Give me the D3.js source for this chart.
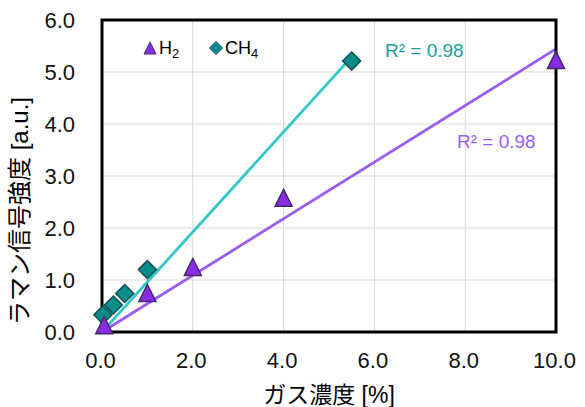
<!DOCTYPE html>
<html>
<head>
<meta charset="utf-8">
<script src="https://cdn.jsdelivr.net/npm/d3@7"></script>
<style>
  body { margin: 0; background: #fff; }
  text { font-family: Arial, "Liberation Sans", "Noto Sans CJK JP", sans-serif; }
</style>
</head>
<body>
<div id="chart"></div>
<script>
// Data
const h2X = [0.05, 1.0, 2.0, 4.0, 10.0];
const h2Y = [0.13, 0.75, 1.25, 2.58, 5.23];
const ch4X = [0.02, 0.25, 0.5, 1.0, 5.5];
const ch4Y = [0.33, 0.52, 0.74, 1.2, 5.21];
const xTicks = [0, 2, 4, 6, 8, 10];
const yTicks = [0, 1, 2, 3, 4, 5, 6];
const r2Labels = ["R² = 0.98", "R² = 0.98"]; // CH4, H2

(function () {
    const width = 585, height = 407;
    const margin = { top: 20, right: 29, bottom: 75, left: 102 };
    const innerW = width - margin.left - margin.right;
    const innerH = height - margin.top - margin.bottom;

    const svg = d3.select("#chart").append("svg")
        .attr("width", width)
        .attr("height", height);

    const g = svg.append("g").attr("transform", `translate(${margin.left},${margin.top})`);

    const x = d3.scaleLinear().domain([0, 10]).range([0, innerW]);
    const y = d3.scaleLinear().domain([0, 6]).range([innerH, 0]);

    // gridlines
    g.append("g").selectAll("line.vg")
        .data(xTicks.slice(1, -1)).enter().append("line")
        .attr("x1", d => x(d)).attr("x2", d => x(d))
        .attr("y1", 0).attr("y2", innerH)
        .attr("stroke", "#d9d9d9").attr("stroke-width", 1);
    g.append("g").selectAll("line.hg")
        .data(yTicks.slice(1, -1)).enter().append("line")
        .attr("y1", d => y(d)).attr("y2", d => y(d))
        .attr("x1", 0).attr("x2", innerW)
        .attr("stroke", "#d9d9d9").attr("stroke-width", 1);

    // axes (labels only)
    const xAxis = g.append("g")
        .attr("transform", `translate(0,${innerH})`)
        .call(d3.axisBottom(x).tickValues(xTicks).tickFormat(d3.format(".1f")).tickSize(0).tickPadding(20));
    const yAxis = g.append("g")
        .call(d3.axisLeft(y).tickValues(yTicks).tickFormat(d3.format(".1f")).tickSize(0).tickPadding(27));
    [xAxis, yAxis].forEach(a => {
        a.select(".domain").remove();
        a.selectAll("text").attr("font-size", 22).attr("fill", "#111")
            .attr("font-family", "Arial, 'Liberation Sans', sans-serif");
    });
    xAxis.selectAll("text").attr("dx", -2);

    // trendlines forced through the origin
    function slope(xs, ys) {
        return d3.sum(xs, (v, i) => v * ys[i]) / d3.sum(xs, v => v * v);
    }
    const line = d3.line().x(d => x(d[0])).y(d => y(d[1]));
    const kH2 = slope(h2X, h2Y);
    const kCH4 = slope(ch4X, ch4Y);

    g.append("path")
        .attr("d", line([[0, 0], [10, 10 * kH2]]))
        .attr("stroke", "#9a5cf5").attr("stroke-width", 2.8).attr("fill", "none");
    g.append("path")
        .attr("d", line([[0, 0], [5.5, 5.5 * kCH4]]))
        .attr("stroke", "#33c6c6").attr("stroke-width", 2.8).attr("fill", "none");

    // frame
    g.append("rect")
        .attr("x", 0).attr("y", 0).attr("width", innerW).attr("height", innerH)
        .attr("fill", "none").attr("stroke", "#000").attr("stroke-width", 3);

    const tri = s => `M0,${-s / 2}L${s / 2},${s / 2}L${-s / 2},${s / 2}Z`;
    const dia = s => `M0,${-s / 2}L${s / 2},0L0,${s / 2}L${-s / 2},0Z`;

    // markers
    g.selectAll("path.ch4")
        .data(ch4X.map((v, i) => [v, ch4Y[i]])).enter().append("path")
        .attr("class", "ch4")
        .attr("d", dia(18))
        .attr("transform", d => `translate(${x(d[0])},${y(d[1])})`)
        .attr("fill", "#0b8c8c").attr("stroke", "#0d4f52").attr("stroke-width", 1.5);
    g.selectAll("path.h2")
        .data(h2X.map((v, i) => [v, h2Y[i]])).enter().append("path")
        .attr("class", "h2")
        .attr("d", tri(17))
        .attr("transform", d => `translate(${x(d[0])},${y(d[1])})`)
        .attr("fill", "#8a2be6").attr("stroke", "#442a6a").attr("stroke-width", 1.5);

    // R² labels
    svg.append("text").attr("x", 385).attr("y", 57)
        .attr("font-size", 19).attr("fill", "#1a9e9e").text(r2Labels[0]);
    svg.append("text").attr("x", 457).attr("y", 148)
        .attr("font-size", 19).attr("fill", "#9a5cf5").text(r2Labels[1]);

    // legend
    const leg = svg.append("g");
    leg.append("path").attr("d", tri(12)).attr("transform", "translate(150,48)")
        .attr("fill", "#8a2be6").attr("stroke", "#442a6a").attr("stroke-width", 1);
    const t1 = leg.append("text").attr("x", 159).attr("y", 54).attr("font-size", 18).attr("fill", "#000");
    t1.append("tspan").text("H");
    t1.append("tspan").attr("font-size", 13).attr("dy", 4).text("2");
    leg.append("path").attr("d", dia(13)).attr("transform", "translate(216,48)")
        .attr("fill", "#0b8c8c").attr("stroke", "#0d4f52").attr("stroke-width", 1);
    const t2 = leg.append("text").attr("x", 225).attr("y", 54).attr("font-size", 18).attr("fill", "#000");
    t2.append("tspan").text("CH");
    t2.append("tspan").attr("font-size", 13).attr("dy", 4).text("4");

    // axis titles
    svg.append("text")
        .attr("x", margin.left + innerW / 2).attr("y", 403)
        .attr("text-anchor", "middle").attr("font-size", 23).attr("fill", "#000")
        .text("ガス濃度 [%]");
    svg.append("text")
        .attr("transform", "translate(28,211) rotate(-90)")
        .attr("text-anchor", "middle").attr("font-size", 24).attr("fill", "#000")
        .text("ラマン信号強度 [a.u.]");
})();
</script>
</body>
</html>
